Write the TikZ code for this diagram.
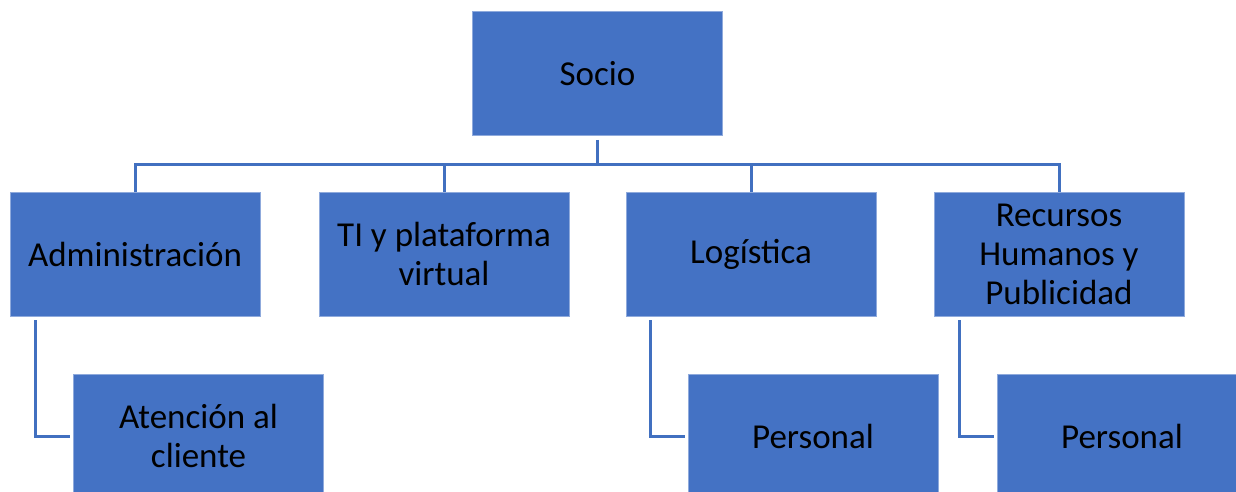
\documentclass[tikz,border=0pt]{standalone}
\usepackage{fontspec}
\setmainfont{Carlito}
\definecolor{boxblue}{HTML}{4472C4}
\definecolor{linkblue}{HTML}{4170C0}
\definecolor{edgeblue}{HTML}{8FAADC}
\begin{document}
\begin{tikzpicture}[x=1pt,y=-1pt,
  orgbox/.style={draw=edgeblue,line width=0.8pt,fill=boxblue,minimum width=250pt,minimum height=124pt,
    inner sep=0pt},
  lowbox/.style={orgbox,minimum height=150pt},
  label text/.style={align=center,inner sep=0pt,
    font=\fontsize{35}{39}\selectfont,text=black},
  link/.style={draw=linkblue,line width=3pt},
  gap/.style={shorten <=4pt,shorten >=3pt}]
\useasboundingbox (0,0) rectangle (1236,491);
\clip (0,0) rectangle (1236,491);
% top level
\node[orgbox] (socio) at (597.5,73.5) {};
\node[label text] at (socio) {Socio};
% second level
\node[orgbox] (admin) at (135,254) {};
\node[label text] at (admin) {Administración};
\node[orgbox] (ti) at (444,254) {};
\node[label text] at (ti) {TI y plataforma\\virtual};
\node[orgbox] (log) at (751,254) {};
\node[label text] at (log) {Logística};
\node[orgbox] (rh) at (1059,254) {};
\node[label text] at (rh) {Recursos\\Humanos y\\Publicidad};
% third level (boxes run past the lower edge)
\node[lowbox] (aten) at (198.5,449) {};
\node[label text] at (198.5,436) {Atención al\\cliente};
\node[lowbox] (pers1) at (813,449) {};
\node[label text] at (813,436) {Personal};
\node[lowbox] (pers2) at (1122,449) {};
\node[label text] at (1122,436) {Personal};
% tree connectors
\coordinate (bus) at (597.5,164);
\draw[link,shorten <=4pt] (socio.south) -- (bus);
\draw[link] (admin.north) |- (bus) -| (rh.north);
\draw[link] (ti.north) -- (ti.north |- bus);
\draw[link] (log.north) -- (log.north |- bus);
% side connectors
\coordinate (a1) at (35,436);
\coordinate (l1) at (650,436);
\coordinate (r1) at (959,436);
\draw[link,gap] (admin.south -| a1) |- (aten.west |- a1);
\draw[link,gap] (log.south -| l1) |- (pers1.west |- l1);
\draw[link,gap] (rh.south -| r1) |- (pers2.west |- r1);
\end{tikzpicture}
\end{document}
